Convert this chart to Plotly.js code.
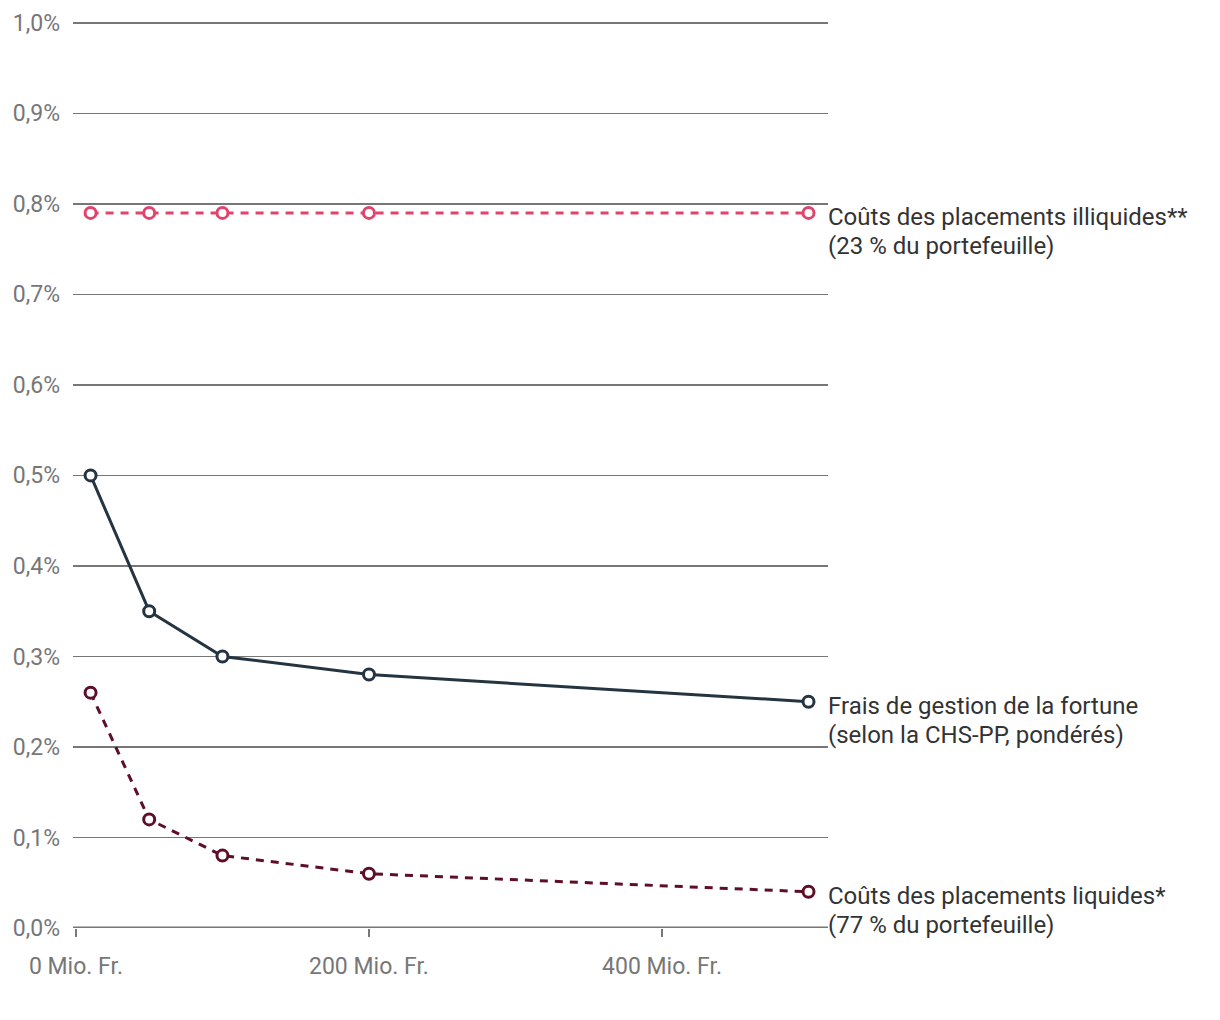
<!DOCTYPE html>
<html><head><meta charset="utf-8">
<script src="https://cdn.plot.ly/plotly-3.0.1.min.js"></script>
<style>body{margin:0;background:#fff}#chart{width:1220px;height:1020px}</style>
</head><body><div id="chart"></div>
<script>
const xValues = [10, 50, 100, 200, 500];
const illiquid = [0.79, 0.79, 0.79, 0.79, 0.79];
const management = [0.50, 0.35, 0.30, 0.28, 0.25];
const liquid = [0.26, 0.12, 0.08, 0.06, 0.04];
const seriesLabels = [
  ["Coûts des placements illiquides**", "(23 % du portefeuille)"],
  ["Frais de gestion de la fortune", "(selon la CHS-PP, pondérés)"],
  ["Coûts des placements liquides*", "(77 % du portefeuille)"]
];
const xTickVals = [0, 200, 400];
const xTickText = ["0 Mio. Fr.", "200 Mio. Fr.", "400 Mio. Fr."];
const yTickVals = [0, 0.1, 0.2, 0.3, 0.4, 0.5, 0.6, 0.7, 0.8, 0.9, 1.0];
const yTickText = ["0,0%", "0,1%", "0,2%", "0,3%", "0,4%", "0,5%", "0,6%", "0,7%", "0,8%", "0,9%", "1,0%"];

const colors = ["#e0436b", "#253441", "#5e0f26"];
const dashes = ["8px,7px", "solid", "8px,7px"];
const series = [illiquid, management, liquid];

const traces = series.map((ys, i) => ({
  x: xValues, y: ys, type: "scatter", mode: "lines+markers",
  line: {color: colors[i], width: 3, dash: dashes[i]},
  marker: {symbol: "circle", size: 11, color: "#fff", line: {color: colors[i], width: 3}},
  hoverinfo: "skip", cliponaxis: false
}));

const annotations = [];
series.forEach((ys, i) => {
  seriesLabels[i].forEach((line, j) => {
    annotations.push({
      x: 1, xref: "paper", y: ys[ys.length - 1], yref: "y",
      xanchor: "left", yanchor: "middle", yshift: -4 - 29 * j, xshift: -2,
      text: line, showarrow: false, align: "left",
      font: {family: "Roboto", size: 24, color: "#333"}
    });
  });
});

const layout = {
  width: 1220, height: 1020,
  margin: {l: 73, r: 392, t: 21, b: 92},
  paper_bgcolor: "#fff", plot_bgcolor: "#fff",
  showlegend: false,
  font: {family: "Roboto", color: "#777"},
  xaxis: {
    range: [-2, 513.3], tickvals: xTickVals, ticktext: xTickText,
    showgrid: false, zeroline: false, showline: false,
    ticks: "outside", ticklen: 8, tickwidth: 2, tickcolor: "#777",
    tickfont: {family: "Roboto", size: 23, color: "#777"}, ticklabelstandoff: 9
  },
  yaxis: {
    range: [0, 1.002], tickvals: yTickVals, ticktext: yTickText,
    showgrid: true, gridcolor: "#777", gridwidth: 1.5, zeroline: false,
    showline: false, ticks: "",
    tickfont: {family: "Roboto", size: 23, color: "#777"}, ticklabelstandoff: 12
  },
  shapes: [{type: "line", xref: "paper", x0: 0, x1: 1, yref: "y", y0: 0, y1: 0,
    line: {color: "#777", width: 3}}],
  annotations: annotations
};

Plotly.newPlot("chart", traces, layout, {displayModeBar: false, staticPlot: true});
</script></body></html>
